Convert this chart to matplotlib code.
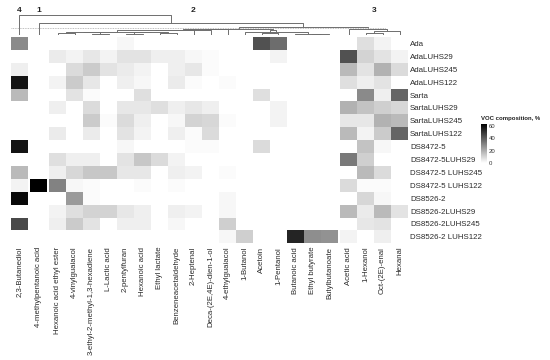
import numpy as np
import matplotlib
matplotlib.use("Agg")
import matplotlib.pyplot as plt
from matplotlib.colors import LinearSegmentedColormap

plt.rcParams['font.family'] = ['Liberation Sans', 'DejaVu Sans']

compounds = ["2,3-Butanediol", "4-methylpentanoic acid", "Hexanoic acid ethyl ester",
             "4-vinylguaiacol", "3-ethyl-2-methyl-1,3-hexadiene", "L-Lactic acid",
             "2-pentylfuran", "Hexanoic acid", "Ethyl lactate", "Benzeneacetaldehyde",
             "2-Heptenal", "Deca-(2E,4E)-dien-1-ol", "4-ethylguaiacol", "1-Butanol",
             "Acetoin", "1-Pentanol", "Butanoic acid", "Ethyl butyrate", "Butylbutanoate",
             "Acetic acid", "1-Hexanol", "Oct-(2E)-enal", "Hexanal"]

samples = ["Ada", "AdaLUHS29", "AdaLUHS245", "AdaLUHS122", "Sarta", "SartaLUHS29",
           "SartaLUHS245", "SartaLUHS122", "DS8472-5", "DS8472-5LUHS29",
           "DS8472-5 LUHS245", "DS8472-5 LUHS122", "DS8526-2", "DS8526-2LUHS29",
           "DS8526-2LUHS245", "DS8526-2 LUHS122"]

# VOC composition, % (rows = samples, columns = compounds)
voc = [
    [29, 0, 0, 0, 0, 0, 2, 0, 0, 0, 0, 0, 0, 0, 43, 36, 0, 0, 0, 0, 8, 3, 0],
    [0, 0, 5, 3, 6, 3, 7, 7, 4, 4, 2, 1, 0, 0, 0, 3, 0, 0, 0, 43, 11, 7, 3],
    [4, 0, 0, 9, 13, 7, 5, 3, 0, 4, 6, 1, 0, 0, 0, 0, 0, 0, 0, 17, 7, 19, 9],
    [58, 0, 3, 13, 6, 0, 4, 2, 0, 5, 1, 0, 1, 0, 0, 0, 0, 0, 0, 8, 4, 7, 0],
    [17, 0, 0, 7, 1, 0, 0, 8, 0, 0, 0, 0, 0, 0, 8, 0, 0, 0, 0, 0, 29, 4, 38],
    [0, 0, 4, 0, 9, 0, 6, 6, 8, 4, 6, 4, 0, 0, 0, 3, 0, 0, 0, 19, 15, 12, 10],
    [0, 0, 0, 0, 13, 1, 9, 4, 0, 2, 11, 10, 1, 0, 0, 3, 0, 0, 0, 6, 6, 19, 17],
    [0, 0, 5, 0, 5, 0, 7, 3, 0, 4, 1, 9, 0, 0, 0, 0, 0, 0, 0, 17, 3, 13, 38],
    [58, 0, 0, 0, 0, 0, 2, 0, 0, 0, 1, 1, 0, 0, 9, 0, 0, 0, 0, 0, 15, 2, 0],
    [0, 0, 8, 4, 4, 0, 7, 14, 9, 3, 0, 0, 0, 0, 0, 0, 0, 0, 0, 33, 12, 0, 0],
    [17, 0, 4, 10, 14, 14, 6, 6, 0, 4, 3, 0, 1, 0, 0, 0, 0, 0, 0, 0, 17, 9, 0],
    [3, 63, 31, 2, 1, 0, 0, 1, 0, 1, 0, 0, 0, 0, 0, 0, 0, 0, 0, 9, 1, 1, 0],
    [61, 0, 0, 25, 1, 0, 0, 0, 0, 0, 0, 0, 2, 0, 0, 0, 0, 0, 0, 0, 10, 2, 0],
    [0, 0, 3, 8, 11, 11, 6, 4, 0, 4, 3, 0, 2, 0, 0, 0, 0, 0, 0, 17, 5, 17, 7],
    [45, 0, 4, 13, 7, 0, 4, 4, 0, 2, 0, 0, 12, 0, 0, 0, 0, 0, 0, 0, 6, 7, 0],
    [0, 0, 0, 0, 0, 0, 0, 0, 0, 0, 0, 0, 2, 12, 0, 0, 54, 28, 27, 3, 0, 4, 0],
]

col_cluster = [4, 1] + [2] * 17 + [3] * 4

# column dendrogram: (height, left, right), leaves are column indices
grp_a = (3.5, (3.0, (2.0, 2, 3), (1.5, 4, 5)), (2.8, (1.2, 6, 7), (2.2, 8, 9)))
grp_b = (6.0, (5.5, (4.8, grp_a, 10), 11), 12)
grp_c = (5.0, (2.0, 14, 15), (3.0, 13, (1.5, 16, (1.0, 17, 18))))
clus2 = (6.5, grp_b, grp_c)
clus3 = (6.0, 19, (4.0, (2.5, 20, 21), 22))
tree = (20.3, 0, (12.7, 1, (8.7, clus2, clus3)))
cut_height = 7.2

data = np.array(voc, dtype=float)
nrow, ncol = data.shape

# column positions with small gaps between clusters
gap = 0.12
starts = []
x = 0.0
for i, c in enumerate(col_cluster):
    if i > 0 and c != col_cluster[i - 1]:
        x += gap
    starts.append(x)
    x += 1
xmax = x
starts = np.array(starts)
centers = starts + 0.5

fig = plt.figure(figsize=(5.5, 3.6), dpi=100)
fig.patch.set_facecolor('white')

W, H = 550.0, 360.0
ax = fig.add_axes([11 / W, 1 - 243.3 / H, 397 / W, (243.3 - 37) / H])
cmap = LinearSegmentedColormap.from_list('voc', ['#ffffff', '#000000'])

# draw each contiguous cluster block
mesh = None
i = 0
while i < ncol:
    j = i
    while j + 1 < ncol and col_cluster[j + 1] == col_cluster[i]:
        j += 1
    xe = np.append(starts[i:j + 1], starts[j] + 1)
    ye = np.arange(nrow + 1)
    mesh = ax.pcolormesh(xe, ye, data[:, i:j + 1], cmap=cmap, vmin=0, vmax=63,
                         edgecolors='none', linewidth=0)
    i = j + 1

ax.set_xlim(0, xmax)
ax.set_ylim(nrow, 0)
for s in ax.spines.values():
    s.set_visible(False)
ax.yaxis.tick_right()
ax.set_yticks(np.arange(nrow) + 0.5)
ax.set_yticklabels(samples, fontsize=5.7, color='#2a2a2a')
ax.set_xticks(centers)
ax.set_xticklabels(compounds, rotation=90, fontsize=5.6, color='#2a2a2a', va='top')
ax.tick_params(length=0, pad=1.5)
ax.tick_params(axis='x', pad=2.5)

# dendrogram
dax = fig.add_axes([11 / W, 1 - 35 / H, 397 / W, 20.5 / H])
dax.set_xlim(0, xmax)
dax.set_ylim(0, 21)
dax.axis('off')


def draw(node):
    if isinstance(node, int):
        return centers[node], 0.0
    h, left, right = node
    xl, hl = draw(left)
    xr, hr = draw(right)
    dax.plot([xl, xl, xr, xr], [hl, h, h, hr], color='#6e6e6e', lw=0.7,
             solid_capstyle='butt')
    return (xl + xr) / 2, h


draw(tree)
cut_end = centers[21] + 0.2
dax.plot([0, cut_end], [cut_height, cut_height], color='#aaaaaa', lw=0.6,
         ls=(0, (1, 1)))

# cluster numbers above dendrogram
for k in [4, 1, 2, 3]:
    idx = [n for n, c in enumerate(col_cluster) if c == k]
    xm = (starts[idx[0]] + starts[idx[-1]] + 1) / 2
    dax.text(xm, 25.5, str(k), ha='center', va='center', fontsize=6,
             fontweight='bold', color='#222222', clip_on=False)

# colour legend
cax = fig.add_axes([481 / W, 1 - 163 / H, 6 / W, 39 / H])
cb = fig.colorbar(mesh, cax=cax, ticks=[0, 20, 40, 60])
cb.outline.set_visible(False)
cax.tick_params(length=0, labelsize=4.3, pad=1.5, colors='#333333')
fig.text(481 / W, 1 - 119 / H, "VOC composition, %", fontsize=4.3,
         fontweight='bold', color='#222222', ha='left', va='center')

fig.savefig("out.png", dpi=100)
